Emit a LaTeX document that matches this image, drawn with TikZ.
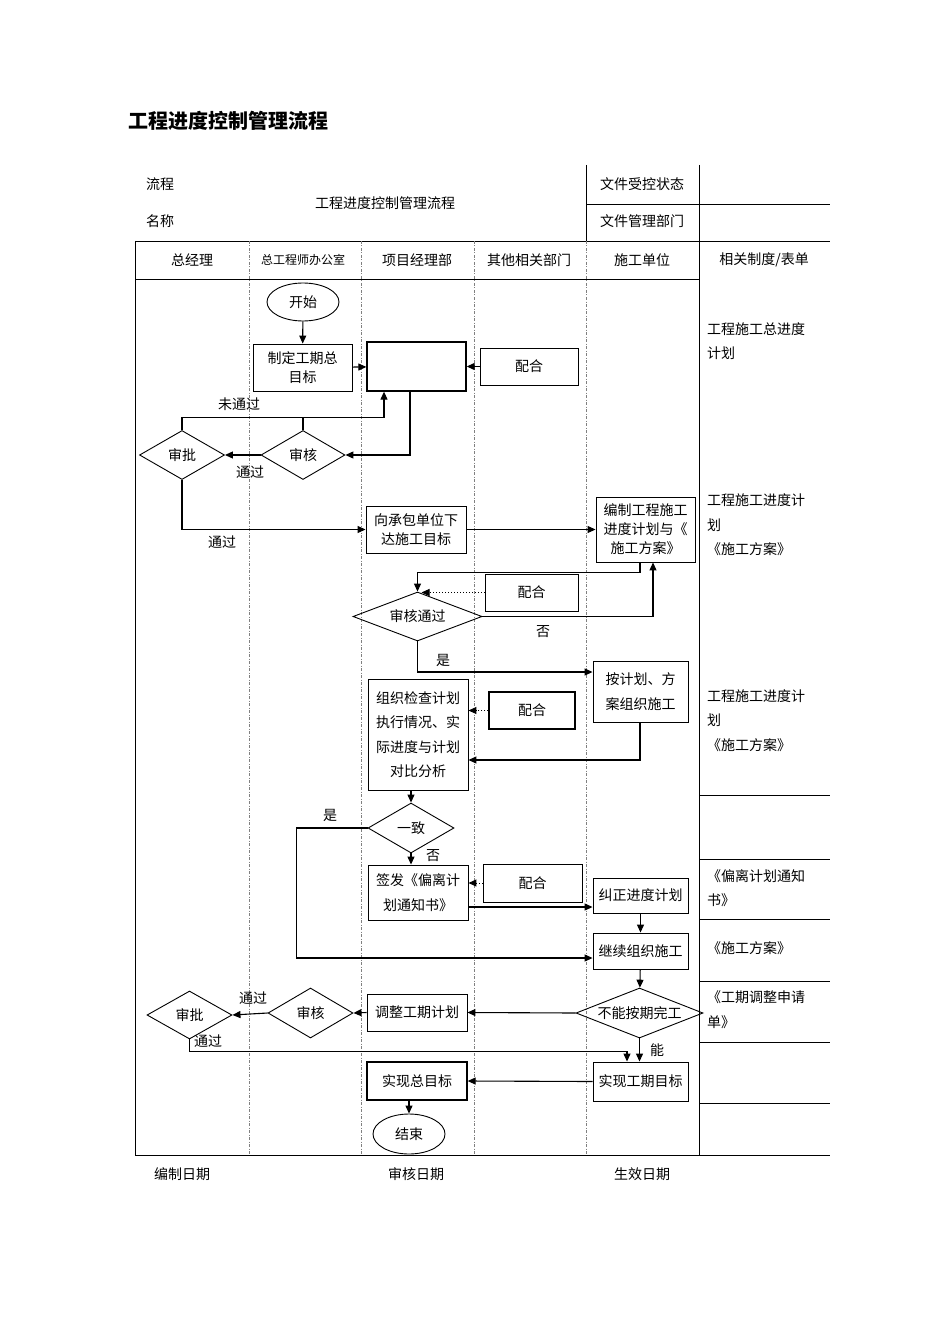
\documentclass[tikz,border=0pt]{standalone}
\usepackage{fontspec}
\newfontfamily\cjk{Noto Sans CJK SC}
\usetikzlibrary{shapes.geometric,arrows.meta}
\begin{document}
\begin{tikzpicture}[x=1pt,y=-1pt,
 every node/.style={font=\cjk\fontsize{14}{19}\selectfont, inner sep=0pt},
 box/.style={draw, line width=0.9pt, align=center},
 dia/.style={draw, diamond, line width=0.9pt, aspect=2.5},
 oval/.style={draw, ellipse, line width=0.9pt},
 arr/.style={line width=1.1pt, -{Triangle[length=8pt,width=7pt]}},
 dotarr/.style={line width=1pt, dotted, -{Triangle[length=8pt,width=7pt]}},
 plain/.style={line width=1.1pt},
 lane/.style={gray, line width=0.6pt, dash pattern=on 3pt off 1.5pt on 1pt off 1.5pt},
 frame/.style={line width=0.8pt},
 side/.style={anchor=west, align=left, font=\cjk\fontsize{14}{24.5}\selectfont},
 wide/.style={font=\cjk\fontsize{14}{24.5}\selectfont}
]
\useasboundingbox (0,0) rectangle (945,1337);
\fill[white] (0,0) rectangle (945,1337);

% title
\node (title) at (228,121) {\cjk\bfseries\fontsize{20}{24}\selectfont 工程进度控制管理流程};

% frame
\draw[frame] (586,165) -- (586,241);
\draw[frame] (699,165) -- (699,1155);
\draw[frame] (586,204) -- (830,204);
\draw[frame] (135,241) -- (830,241);
\draw[frame] (135,279) -- (699,279);
\draw[frame] (135,241) -- (135,1155);
\draw[frame] (135,1155) -- (830,1155);
\foreach \yy in {795,859,919,981,1042,1103} \draw[frame] (699,\yy) -- (830,\yy);
\foreach \xx in {249,361,474,586} \draw[lane] (\xx,241) -- (\xx,1155);

% header texts
\node (h1) at (160,184) {流程};
\node (h2) at (160,221) {名称};
\node (h3) at (385,203) {工程进度控制管理流程};
\node (h4) at (642,184) {文件受控状态};
\node (h5) at (642,221) {文件管理部门};
\node (l1) at (192,260) {总经理};
\node (l2) at (303,260) {\fontsize{12}{14}\selectfont 总工程师办公室};
\node (l3) at (417,260) {项目经理部};
\node (l4) at (529,260) {其他相关部门};
\node (l5) at (642,260) {施工单位};
\node (l6) at (764,260) {相关制度/表单};
\node (f1) at (182,1174) {编制日期};
\node (f2) at (416,1174) {审核日期};
\node (f3) at (642,1174) {生效日期};

% right column
\node[side] (s1) at (707,341) {工程施工总进度\\计划};
\node[side] (s2) at (707,525) {工程施工进度计\\划\\《施工方案》};
\node[side] (s3) at (707,720.5) {工程施工进度计\\划\\《施工方案》};
\node[side] (s4) at (707,888) {《偏离计划通知\\书》};
\node[side] (s5) at (707,948) {《施工方案》};
\node[side] (s6) at (707,1009.5) {《工期调整申请\\单》};

% flow nodes
\node[oval, minimum width=72pt, minimum height=38pt] (start) at (303,302) {开始};
\node[box, minimum width=99pt, minimum height=47pt] (zhiding) at (302.5,367.5) {制定工期总\\目标};
\node[box, line width=1.3pt, minimum width=99pt, minimum height=49pt] (blank) at (416.5,366.5) {};
\node[box, minimum width=98pt, minimum height=37pt] (peihe1) at (529,366.5) {配合};
\node[dia, minimum width=84pt, minimum height=49pt] (shenhe1) at (303,455) {审核};
\node[dia, minimum width=85pt, minimum height=49pt] (shenpi1) at (182,455) {审批};
\node[box, minimum width=100pt, minimum height=47pt] (xiang) at (416,529.5) {向承包单位下\\达施工目标};
\node[box, minimum width=99pt, minimum height=65pt] (bianzhi) at (645.5,529.5) {编制工程施工\\进度计划与《\\施工方案》};
\node[box, minimum width=93pt, minimum height=37pt] (peihe2) at (531.5,592.5) {配合};
\node[dia, minimum width=129pt, minimum height=49pt] (shtg) at (417.5,616.5) {审核通过};
\node[box, wide, minimum width=95pt, minimum height=61pt] (anjihua) at (640.5,691.5) {按计划、方\\案组织施工};
\node[box, wide, minimum width=100pt, minimum height=111pt] (zuzhi) at (418,734.5) {组织检查计划\\执行情况、实\\际进度与计划\\对比分析};
\node[box, line width=1.3pt, minimum width=86pt, minimum height=37pt] (peihe3) at (532,710.5) {配合};
\node[dia, minimum width=86pt, minimum height=50pt] (yizhi) at (411,828) {一致};
\node[box, wide, minimum width=100pt, minimum height=55pt] (qianfa) at (418,892.5) {签发《偏离计\\划通知书》};
\node[box, minimum width=99pt, minimum height=38pt] (peihe4) at (532.5,883) {配合};
\node[box, minimum width=95pt, minimum height=35pt] (jiuzheng) at (640.5,895.5) {纠正进度计划};
\node[box, minimum width=95pt, minimum height=36pt] (jixu) at (640.5,951) {继续组织施工};
\node[dia, minimum width=127pt, minimum height=50pt] (buneng) at (639.5,1013) {不能按期完工};
\node[box, minimum width=100pt, minimum height=37pt] (tiaozheng) at (417,1012.5) {调整工期计划};
\node[dia, minimum width=85pt, minimum height=50pt] (shenhe2) at (310.5,1013) {审核};
\node[dia, minimum width=85pt, minimum height=48pt] (shenpi2) at (189.5,1015) {审批};
\node[box, minimum width=95pt, minimum height=39pt] (sxgq) at (640.5,1081.5) {实现工期目标};
\node[box, line width=1.3pt, minimum width=100pt, minimum height=38pt] (sxzong) at (417,1081) {实现总目标};
\node[oval, minimum width=72pt, minimum height=40pt] (end) at (409,1134) {结束};

% labels
\node (t1) at (239,404) {未通过};
\node (t2) at (250,472) {通过};
\node (t3) at (222,542) {通过};
\node (t4) at (543,632) {否};
\node (t5) at (443,660) {是};
\node (t6) at (433,856) {否};
\node (t7) at (330,815) {是};
\node (t8) at (253,998) {通过};
\node (t9) at (208,1041) {通过};
\node (t10) at (657,1050) {能};

% connectors
\draw[arr] (start) -- (zhiding);
\draw[arr] (zhiding) -- (blank);
\draw[arr] (peihe1) -- (blank);
\draw[arr] ([xshift=-6.5pt]blank.south) |- (shenhe1.east);
\draw[arr] (shenhe1.west) -- (shenpi1.east);
\draw[plain] (shenhe1.north) -- ++(0,-13);
\draw[arr] (shenpi1.north) -- ++(0,-13) -| ([xshift=-32.5pt]blank.south);
\draw[arr] (shenpi1.south) |- (xiang.west);
\draw[arr] (xiang.east) -- (bianzhi.west);
\draw[arr] ([xshift=-5.5pt]bianzhi.south) -- ++(0,10) -| (shtg.north);
\draw[dotarr] (peihe2.west) -- ([xshift=4pt]peihe2.west -| shtg.north);
\draw[arr] (shtg.east) -| ([xshift=7.5pt]bianzhi.south);
\draw[arr] (shtg.south) |- ([yshift=19.5pt]anjihua.west);
\draw[arr] ([xshift=-0.5pt]anjihua.south) |- ([yshift=-25.5pt]zuzhi.east);
\draw[dotarr] (peihe3.west) -- (peihe3.west -| zuzhi.east);
\draw[arr] ([xshift=-7pt]zuzhi.south) -- (yizhi.north);
\draw[arr] (yizhi.south) -- (yizhi.south |- qianfa.north);
\draw[arr] (yizhi.west) -- ++(-71,0) |- ([yshift=-7pt]jixu.west);
\draw[dotarr] (peihe4.west) -- (peihe4.west -| qianfa.east);
\draw[arr] ([yshift=-14.5pt]qianfa.east) -- ([yshift=-11.5pt]jiuzheng.west);
\draw[arr] (jiuzheng) -- (jixu);
\draw[arr] (jixu) -- (buneng);
\draw[arr] (buneng.west) -- (tiaozheng.east);
\draw[arr] (tiaozheng.west) -- (shenhe2.east);
\draw[arr] (shenhe2.west) -- (shenpi2.east);
\draw[arr] (shenpi2.south) -- ++(0,12) -| ([xshift=-13.5pt]sxgq.north);
\draw[arr] (buneng.south) -- (buneng.south |- sxgq.north);
\draw[arr] (sxgq.west) -- (sxzong.east);
\draw[arr] ([xshift=-8pt]sxzong.south) -- (end);
\end{tikzpicture}
\end{document}
